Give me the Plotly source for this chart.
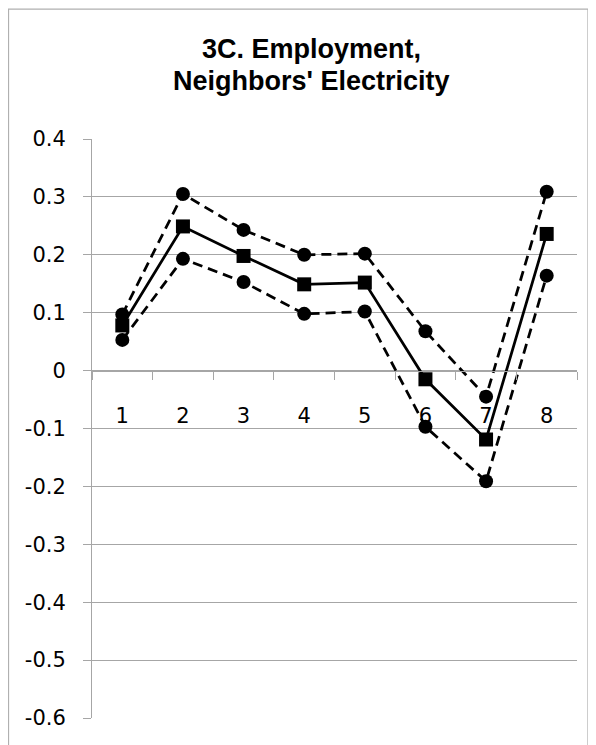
import plotly.graph_objects as go

categories = ["1", "2", "3", "4", "5", "6", "7", "8"]
estimate = [0.078, 0.249, 0.198, 0.149, 0.152, -0.015, -0.119, 0.236]
upper = [0.097, 0.305, 0.243, 0.200, 0.202, 0.068, -0.045, 0.309]
lower = [0.053, 0.193, 0.153, 0.098, 0.102, -0.097, -0.191, 0.164]
y_ticks = [0.4, 0.3, 0.2, 0.1, 0, -0.1, -0.2, -0.3, -0.4, -0.5, -0.6]
y_tick_text = ["0.4", "0.3", "0.2", "0.1", "0", "-0.1", "-0.2", "-0.3", "-0.4", "-0.5", "-0.6"]
title_lines = ["3C. Employment,", "Neighbors' Electricity"]

FONT = "DejaVu Sans"
TITLE_FONT = "Liberation Sans"
GRID = "#a6a6a6"

fig = go.Figure()
for vals in (upper, lower):
    fig.add_trace(go.Scatter(
        x=categories, y=vals, mode="lines+markers",
        line=dict(color="black", width=2.75, dash="10px,6px"),
        marker=dict(symbol="circle", size=14, color="black"),
        showlegend=False, hoverinfo="skip"))
fig.add_trace(go.Scatter(
    x=categories, y=estimate, mode="lines+markers",
    line=dict(color="black", width=2.75),
    marker=dict(symbol="square", size=14, color="black"),
    showlegend=False))

# page has an 8px body margin, so the figure is 8px smaller
W, H = 588, 737
L, R, T, B = 84, 19, 131, 27
ph = H - T - B
pw = W - L - R
zero_pos = (0 - (-0.6)) / 1.0

def px_x(x):
    return (x - L) / pw

def px_y(y):
    return (H - B - y) / ph

fig.update_layout(
    width=W, height=H,
    margin=dict(l=L, r=R, t=T, b=B),
    paper_bgcolor="white", plot_bgcolor="white",
    font=dict(family=FONT, size=21, color="black"),
    xaxis=dict(type="category", range=[-0.5, 7.5], anchor="free", position=zero_pos,
               showline=True, linecolor=GRID, linewidth=1,
               ticks="outside", tickson="boundaries", ticklen=8, tickcolor=GRID,
               showgrid=False, zeroline=False, ticklabelstandoff=26,
               tickfont=dict(family=FONT, size=21, color="black")),
    yaxis=dict(range=[-0.6, 0.4], tickvals=y_ticks, ticktext=y_tick_text,
               showline=True, linecolor=GRID, linewidth=1,
               ticks="outside", ticklen=8, tickcolor=GRID,
               showgrid=True, gridcolor=GRID, gridwidth=1, zeroline=False,
               ticklabelstandoff=13,
               tickfont=dict(family=FONT, size=21, color="black")),
)

for text, yc in zip(title_lines, (41, 73)):
    fig.add_annotation(text=text, xref="paper", yref="paper",
                       x=px_x(303.5), y=px_y(yc), xanchor="center", yanchor="middle",
                       showarrow=False,
                       font=dict(family=TITLE_FONT, size=27, color="black", weight="bold"))

fig.add_shape(type="rect", xref="paper", yref="paper",
              x0=px_x(0.5), x1=px_x(580),
              y0=px_y(760), y1=px_y(1),
              line=dict(color="#b0b0b0", width=1.25), fillcolor="rgba(0,0,0,0)", layer="below")

fig.write_html("out.html")
